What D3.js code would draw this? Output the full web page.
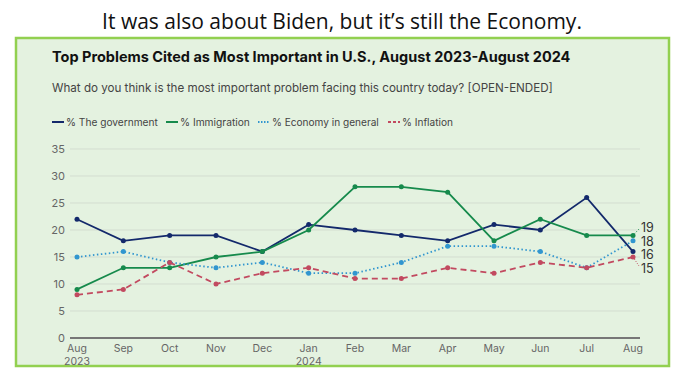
<!DOCTYPE html>
<html>
<head>
<meta charset="utf-8">
<script src="https://cdn.jsdelivr.net/npm/d3@7"></script>
<style>
  body { margin: 0; background: #fff; }
  svg text { font-family: Inter, Roboto, "Noto Sans", sans-serif; }
</style>
</head>
<body>
<script>
// data
const months = ["Aug", "Sep", "Oct", "Nov", "Dec", "Jan", "Feb", "Mar", "Apr", "May", "Jun", "Jul", "Aug "];
const monthLabels = ["Aug", "Sep", "Oct", "Nov", "Dec", "Jan", "Feb", "Mar", "Apr", "May", "Jun", "Jul", "Aug"];
const government = [22, 18, 19, 19, 16, 21, 20, 19, 18, 21, 20, 26, 16];
const immigration = [9, 13, 13, 15, 16, 20, 28, 28, 27, 18, 22, 19, 19];
const economy = [15, 16, 14, 13, 14, 12, 12, 14, 17, 17, 16, 13, 18];
const inflation = [8, 9, 14, 10, 12, 13, 11, 11, 13, 12, 14, 13, 15];
const yTicks = [0, 5, 10, 15, 20, 25, 30, 35];

const series = [
  { name: "% The government", values: government, color: "#13296b", dash: null },
  { name: "% Immigration", values: immigration, color: "#168a4c", dash: null },
  { name: "% Economy in general", values: economy, color: "#3196cf", dash: "1.5,2.5" },
  { name: "% Inflation", values: inflation, color: "#c24a60", dash: "6,4" }
];

const svg = d3.select("body").append("svg")
  .attr("width", 685)
  .attr("height", 372);

// shrink or grow a text until it is as wide as in the picture
function fitWidth(sel, size, target) {
  sel.style("font-size", size + "px");
  const w = sel.node().getComputedTextLength();
  sel.style("font-size", (size * target / w) + "px");
  return sel;
}

// slide heading
const head = svg.append("text")
  .attr("x", 342)
  .attr("y", 29)
  .attr("text-anchor", "middle")
  .style("font-family", "'Open Sans', 'Noto Sans', sans-serif")
  .attr("fill", "#111")
  .text("It was also about Biden, but it\u2019s still the Economy.");
fitWidth(head, 22, 480);

// green box
svg.append("rect")
  .attr("x", 16).attr("y", 38)
  .attr("width", 653).attr("height", 328)
  .attr("fill", "#e4f2e0")
  .attr("stroke", "#92d050")
  .attr("stroke-width", 2.5);

const title = svg.append("text")
  .attr("x", 52).attr("y", 62)
  .style("font-weight", "700")
  .attr("fill", "#111")
  .text("Top Problems Cited as Most Important in U.S., August 2023-August 2024");
fitWidth(title, 14, 519);

const sub = svg.append("text")
  .attr("x", 52).attr("y", 92)
  .attr("fill", "#444")
  .text("What do you think is the most important problem facing this country today? [OPEN-ENDED]");
fitWidth(sub, 12, 501);

// legend
const legendX = [52, 166, 258, 388];
const legendW = [92, 70, 107, 51];
series.forEach((s, i) => {
  const g = svg.append("g").attr("transform", `translate(${legendX[i]},122)`);
  g.append("line")
    .attr("x1", 0).attr("x2", 12)
    .attr("stroke", s.color)
    .attr("stroke-width", 2)
    .attr("stroke-dasharray", s.dash ? (i == 3 ? "3,2" : "1.5,1.5") : null);
  const t = g.append("text")
    .attr("x", 14).attr("y", 4)
    .attr("fill", "#444")
    .text(s.name);
  fitWidth(t, 11, legendW[i]);
});

const x = d3.scalePoint().domain(months).range([77, 633]);
const y = d3.scaleLinear().domain([0, 35]).range([338, 149]);

// grid
svg.append("g").selectAll("line")
  .data(yTicks.slice(1))
  .join("line")
  .attr("x1", 70).attr("x2", 640)
  .attr("y1", d => y(d)).attr("y2", d => y(d))
  .attr("stroke", "#d3ddd0")
  .attr("stroke-width", 1);

svg.append("line")
  .attr("x1", 70).attr("x2", 640)
  .attr("y1", y(0)).attr("y2", y(0))
  .attr("stroke", "#777")
  .attr("stroke-width", 2);

svg.append("g").selectAll("text")
  .data(yTicks)
  .join("text")
  .attr("x", 65)
  .attr("y", d => y(d) + 4)
  .attr("text-anchor", "end")
  .style("font-size", "11px")
  .attr("fill", "#666")
  .text(d => d);

svg.append("g").selectAll("text")
  .data(months)
  .join("text")
  .attr("x", d => x(d))
  .attr("y", 352)
  .attr("text-anchor", "middle")
  .style("font-size", "10.5px")
  .attr("fill", "#666")
  .text((d, i) => monthLabels[i]);

svg.append("text").attr("x", x(months[0])).attr("y", 365)
  .attr("text-anchor", "middle").style("font-size", "10.5px").attr("fill", "#666").text("2023");
svg.append("text").attr("x", x(months[5])).attr("y", 365)
  .attr("text-anchor", "middle").style("font-size", "10.5px").attr("fill", "#666").text("2024");

// lines
const line = d3.line()
  .x((d, i) => x(months[i]))
  .y(d => y(d));

series.forEach(s => {
  svg.append("path")
    .attr("d", line(s.values))
    .attr("fill", "none")
    .attr("stroke", s.color)
    .attr("stroke-width", 1.8)
    .attr("stroke-dasharray", s.dash);
  svg.append("g").selectAll("circle")
    .data(s.values)
    .join("circle")
    .attr("cx", (d, i) => x(months[i]))
    .attr("cy", d => y(d))
    .attr("r", 2.5)
    .attr("fill", s.color);
});

// end labels
const endLabels = [
  { s: series[1], ly: 227 },
  { s: series[2], ly: 241 },
  { s: series[0], ly: 254.5 },
  { s: series[3], ly: 268 }
];
const last = months.length - 1;
endLabels.forEach(e => {
  const py = y(e.s.values[last]);
  if (Math.abs(py - e.ly) > 4) {
    svg.append("line")
      .attr("x1", x(months[last])).attr("y1", py)
      .attr("x2", 639).attr("y2", e.ly + (e.ly < py ? 2 : -2))
      .attr("stroke", e.s.color)
      .attr("stroke-width", 1)
      .attr("stroke-dasharray", "1,1.5");
  }
  svg.append("text")
    .attr("x", 641)
    .attr("y", e.ly + 4.5)
    .style("font-size", "12.5px")
    .attr("fill", "#333")
    .text(e.s.values[last]);
});
</script>
</body>
</html>
